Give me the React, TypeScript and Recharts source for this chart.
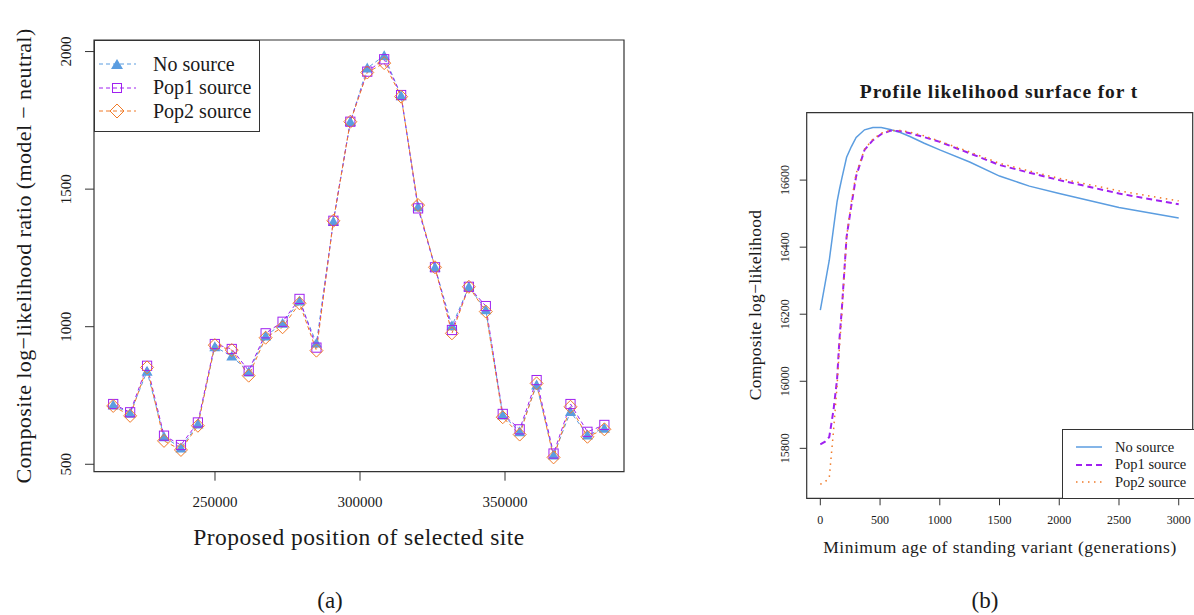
import { Line, LineChart, ReferenceArea, XAxis, YAxis } from "recharts";

const SERIF = "'Liberation Serif', 'DejaVu Serif', serif";
const INK = "#1a1a1a";

// panel (a): candidate site positions and the three log-likelihood ratio series
const positions = [
  214900, 220740, 226580, 232420, 238260, 244100, 249940, 255780, 261620, 267460,
  273300, 279140, 284980, 290820, 296660, 302500, 308340, 314180, 320020, 325860,
  331700, 337540, 343380, 349220, 355060, 360900, 366740, 372580, 378420, 384260,
];
const noSourceRatio = [
  715, 685, 838, 600, 559, 646, 927, 893, 835, 966,
  1012, 1093, 940, 1382, 1745, 1940, 1985, 1839, 1436, 1216,
  1003, 1145, 1061, 679, 618, 788, 533, 691, 606, 631,
];
const pop1Ratio = [
  719, 689, 858, 604, 570, 652, 937, 919, 840, 976,
  1018, 1101, 924, 1385, 1745, 1927, 1972, 1842, 1430, 1216,
  988, 1145, 1075, 683, 627, 806, 539, 719, 618, 643,
];
const pop2Ratio = [
  712, 676, 852, 585, 552, 640, 933, 915, 822, 960,
  998, 1085, 913, 1385, 1745, 1924, 1958, 1836, 1442, 1216,
  976, 1145, 1055, 671, 608, 794, 525, 709, 600, 627,
];
const positionTicks = [250000, 300000, 350000];
const ratioTicks = [500, 1000, 1500, 2000];

// panel (b): profile likelihood over minimum age t
const ages = [
  0, 40, 75, 110, 140, 160, 180, 220, 260, 300, 370, 440, 510, 585, 670, 750,
  870, 1000, 1250, 1500, 1750, 2000, 2500, 3000,
];
const noSourceLik = [
  16212, 16291, 16361, 16455, 16535, 16572, 16605, 16668, 16700, 16727, 16750, 16757,
  16757, 16751, 16742, 16730, 16710, 16690, 16654, 16612, 16582, 16560, 16518, 16487,
];
const pop1Lik = [
  15812, 15820, 15834, 15913, 16005, 16125, 16215, 16431, 16525, 16612, 16690, 16719,
  16737, 16747, 16746, 16740, 16728, 16714, 16680, 16645, 16622, 16600, 16560, 16528,
];
const pop2Lik = [
  15693, 15700, 15713, 15850, 15985, 16100, 16200, 16430, 16535, 16620, 16692, 16722,
  16740, 16748, 16748, 16743, 16732, 16716, 16684, 16650, 16627, 16605, 16568, 16538,
];
const ageTicks = [0, 500, 1000, 1500, 2000, 2500, 3000];
const likTicks = [15800, 16000, 16200, 16400, 16600];

const seriesNames = ["No source", "Pop1 source", "Pop2 source"];
const BLUE = "#5b9de0";
const PURPLE = "#a020f0";
const ORANGE = "#f07a28";

const POS_DOMAIN = [208280, 391030];
const RATIO_DOMAIN = [473, 2042];
const AGE_DOMAIN = [-114, 3117];
const LIK_DOMAIN = [15651, 16801];

const siteData = positions.map((x, i) => ({
  x,
  none: noSourceRatio[i],
  pop1: pop1Ratio[i],
  pop2: pop2Ratio[i],
}));

const ageData = ages.map((x, i) => ({
  x,
  none: noSourceLik[i],
  pop1: pop1Lik[i],
  pop2: pop2Lik[i],
}));

function TriangleDot({ cx, cy }: any) {
  if (cx == null || cy == null) return null;
  const s = 5.5;
  return (
    <path
      d={`M${cx},${cy - s} L${cx + s},${cy + s * 0.8} L${cx - s},${cy + s * 0.8} Z`}
      fill={BLUE}
    />
  );
}

function SquareDot({ cx, cy }: any) {
  if (cx == null || cy == null) return null;
  const s = 4.6;
  return (
    <rect x={cx - s} y={cy - s} width={s * 2} height={s * 2} fill="none" stroke={PURPLE} strokeWidth={1} />
  );
}

function DiamondDot({ cx, cy }: any) {
  if (cx == null || cy == null) return null;
  const s = 6.5;
  return (
    <path
      d={`M${cx},${cy - s} L${cx + s},${cy} L${cx},${cy + s} L${cx - s},${cy} Z`}
      fill="none"
      stroke={ORANGE}
      strokeWidth={1}
    />
  );
}

function LeftXTick({ x, y, payload }: any) {
  return (
    <text x={x} y={y} dy={24} textAnchor="middle" fontSize={15} fontFamily={SERIF} fill={INK}>
      {payload.value}
    </text>
  );
}

function LeftYTick({ x, y, payload }: any) {
  const px = x - 12;
  return (
    <text
      x={px}
      y={y}
      transform={`rotate(-90, ${px}, ${y})`}
      textAnchor="middle"
      fontSize={15}
      fontFamily={SERIF}
      fill={INK}
    >
      {payload.value}
    </text>
  );
}

function RightXTick({ x, y, payload }: any) {
  return (
    <text x={x} y={y} dy={17} textAnchor="middle" fontSize={12} fontFamily={SERIF} fill={INK}>
      {payload.value}
    </text>
  );
}

function RightYTick({ x, y, payload }: any) {
  const px = x - 9;
  return (
    <text
      x={px}
      y={y}
      transform={`rotate(-90, ${px}, ${y})`}
      textAnchor="middle"
      fontSize={12}
      fontFamily={SERIF}
      fill={INK}
    >
      {payload.value}
    </text>
  );
}

const abs = (left: number, top: number, extra: any = {}) => ({
  position: "absolute" as const,
  left,
  top,
  fontFamily: SERIF,
  color: INK,
  whiteSpace: "nowrap" as const,
  ...extra,
});

function CenteredText({ x, y, size, rotate, bold, spacing = 0, children }: any) {
  return (
    <div
      style={abs(x, y, {
        fontSize: size,
        fontWeight: bold ? "bold" : "normal",
        letterSpacing: spacing,
        transform: `translate(-50%, -50%)${rotate ? " rotate(-90deg)" : ""}`,
        lineHeight: 1,
      })}
    >
      {children}
    </div>
  );
}

function LeftLegend() {
  const marks = [
    <path d="M19,3 L25,13 L13,13 Z" fill={BLUE} />,
    <rect x={14.5} y={3.5} width={9} height={9} fill="none" stroke={PURPLE} />,
    <path d="M19,1 L26,8 L19,15 L12,8 Z" fill="none" stroke={ORANGE} />,
  ];
  const colors = [BLUE, PURPLE, ORANGE];
  return (
    <div
      style={abs(94, 40, {
        width: 166,
        height: 92,
        border: `1px solid #333`,
        background: "#fff",
        boxSizing: "border-box",
      })}
    >
      {seriesNames.map((name, i) => (
        <div key={name} style={abs(3, 13 + i * 23.5, { height: 20, display: "flex", alignItems: "center" })}>
          <svg width={40} height={16} style={{ display: "block" }}>
            <line x1={1} y1={8} x2={38} y2={8} stroke={colors[i]} strokeDasharray="4 3" strokeWidth={1} />
            {marks[i]}
          </svg>
          <span style={{ fontSize: 20, marginLeft: 15 }}>{name}</span>
        </div>
      ))}
    </div>
  );
}

function RightLegend() {
  const styles = [
    { stroke: BLUE, dash: undefined, w: 1.5 },
    { stroke: PURPLE, dash: "6 4", w: 2 },
    { stroke: ORANGE, dash: "1.5 4.5", w: 1.5 },
  ];
  return (
    <div
      style={abs(1062, 429, {
        width: 132,
        height: 70,
        border: `1px solid #333`,
        borderRight: "none",
        background: "#fff",
        boxSizing: "border-box",
      })}
    >
      {seriesNames.map((name, i) => (
        <div key={name} style={abs(12, 9 + i * 17.5, { height: 16, display: "flex", alignItems: "center" })}>
          <svg width={28} height={10} style={{ display: "block" }}>
            <line
              x1={1}
              y1={5}
              x2={27}
              y2={5}
              stroke={styles[i].stroke}
              strokeDasharray={styles[i].dash}
              strokeWidth={styles[i].w}
            />
          </svg>
          <span style={{ fontSize: 14.5, marginLeft: 12 }}>{name}</span>
        </div>
      ))}
    </div>
  );
}

export default function App() {
  return (
    <div style={{ position: "absolute", left: 0, top: 0, width: 1194, height: 615, background: "#fff" }}>
      <div style={{ position: "absolute", left: 0, top: 0 }}>
        <LineChart
          width={640}
          height={520}
          data={siteData}
          margin={{ left: 44, right: 16, top: 40, bottom: 18.3 }}
        >
          <XAxis
            dataKey="x"
            type="number"
            domain={POS_DOMAIN}
            ticks={positionTicks}
            interval={0}
            height={30}
            axisLine={false}
            tickLine={{ stroke: "#333" }}
            tickSize={9}
            tick={<LeftXTick />}
            allowDataOverflow
          />
          <YAxis
            type="number"
            domain={RATIO_DOMAIN}
            ticks={ratioTicks}
            interval={0}
            width={50}
            axisLine={false}
            tickLine={{ stroke: "#333" }}
            tickSize={9}
            tick={<LeftYTick />}
            allowDataOverflow
          />
          <ReferenceArea
            x1={POS_DOMAIN[0]}
            x2={POS_DOMAIN[1]}
            y1={RATIO_DOMAIN[0]}
            y2={RATIO_DOMAIN[1]}
            fill="none"
            stroke="#333"
            strokeWidth={1.2}
            fillOpacity={0}
          />
          <Line
            dataKey="none"
            stroke={BLUE}
            strokeWidth={1}
            strokeDasharray="4 3"
            dot={<TriangleDot />}
            activeDot={false}
            isAnimationActive={false}
          />
          <Line
            dataKey="pop1"
            stroke={PURPLE}
            strokeWidth={1}
            strokeDasharray="4 3"
            dot={<SquareDot />}
            activeDot={false}
            isAnimationActive={false}
          />
          <Line
            dataKey="pop2"
            stroke={ORANGE}
            strokeWidth={1}
            strokeDasharray="4 3"
            dot={<DiamondDot />}
            activeDot={false}
            isAnimationActive={false}
          />
        </LineChart>
      </div>
      <LeftLegend />
      <CenteredText x={24} y={256} size={22} spacing={0.4} rotate>
        Composite log−likelihood ratio (model − neutral)
      </CenteredText>
      <CenteredText x={359} y={538} size={23.5} spacing={0.5}>
        Proposed position of selected site
      </CenteredText>
      <CenteredText x={330} y={600} size={23}>
        (a)
      </CenteredText>

      <div style={{ position: "absolute", left: 740, top: 0 }}>
        <LineChart
          width={454}
          height={560}
          data={ageData}
          margin={{ left: 16.7, right: 1.3, top: 112.7, bottom: 31.7 }}
        >
          <XAxis
            dataKey="x"
            type="number"
            domain={AGE_DOMAIN}
            ticks={ageTicks}
            interval={0}
            height={30}
            axisLine={false}
            tickLine={{ stroke: "#333" }}
            tickSize={7}
            tick={<RightXTick />}
            allowDataOverflow
          />
          <YAxis
            type="number"
            domain={LIK_DOMAIN}
            ticks={likTicks}
            interval={0}
            width={50}
            axisLine={false}
            tickLine={{ stroke: "#333" }}
            tickSize={7}
            tick={<RightYTick />}
            allowDataOverflow
          />
          <ReferenceArea
            x1={AGE_DOMAIN[0]}
            x2={AGE_DOMAIN[1]}
            y1={LIK_DOMAIN[0]}
            y2={LIK_DOMAIN[1]}
            fill="none"
            stroke="#333"
            strokeWidth={1.2}
            fillOpacity={0}
          />
          <Line
            dataKey="none"
            stroke={BLUE}
            strokeWidth={1.5}
            dot={false}
            activeDot={false}
            isAnimationActive={false}
          />
          <Line
            dataKey="pop1"
            stroke={PURPLE}
            strokeWidth={2}
            strokeDasharray="6 4"
            dot={false}
            activeDot={false}
            isAnimationActive={false}
          />
          <Line
            dataKey="pop2"
            stroke={ORANGE}
            strokeWidth={1.5}
            strokeDasharray="1.5 4.5"
            dot={false}
            activeDot={false}
            isAnimationActive={false}
          />
        </LineChart>
      </div>
      <RightLegend />
      <CenteredText x={999} y={92} size={19.5} spacing={0.9} bold>
        Profile likelihood surface for t
      </CenteredText>
      <CenteredText x={756} y={305} size={17.5} spacing={0.3} rotate>
        Composite log−likelihood
      </CenteredText>
      <CenteredText x={1000} y={548} size={17.5} spacing={0.5}>
        Minimum age of standing variant (generations)
      </CenteredText>
      <CenteredText x={985} y={600} size={23}>
        (b)
      </CenteredText>
    </div>
  );
}
